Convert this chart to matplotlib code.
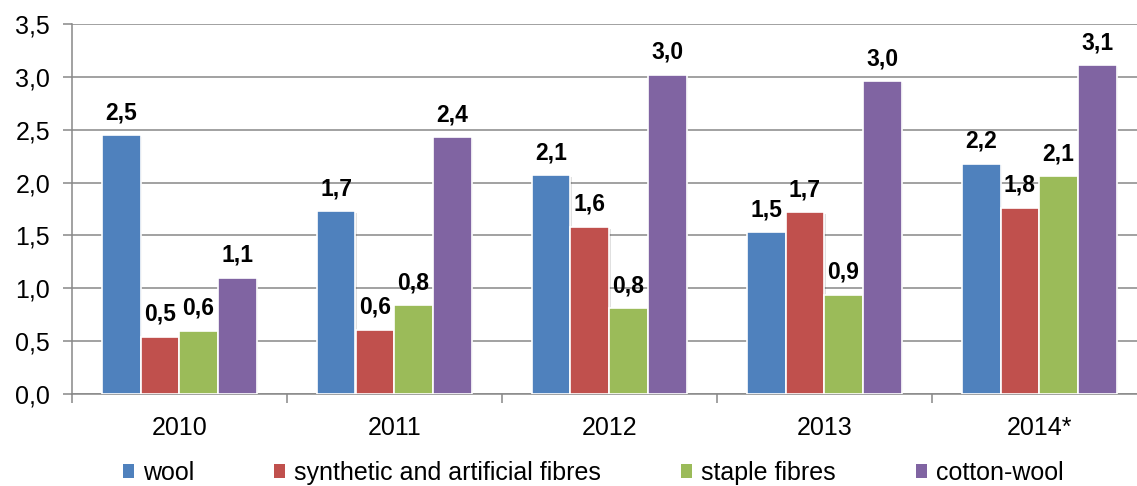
import matplotlib
matplotlib.use("Agg")
import matplotlib.pyplot as plt
import matplotlib.patheffects as pe
import numpy as np
from matplotlib.patches import Patch

plt.rcParams['font.family'] = ['Liberation Sans', 'DejaVu Sans']

# data
years = ['2010', '2011', '2012', '2013', '2014*']
wool = [2.45, 1.73, 2.07, 1.53, 2.18]
synthetic = [0.54, 0.61, 1.58, 1.72, 1.76]
staple = [0.60, 0.84, 0.81, 0.94, 2.06]
cotton_wool = [1.10, 2.43, 3.02, 2.96, 3.11]

series_names = ['wool', 'synthetic and artificial fibres', 'staple fibres', 'cotton-wool']
series_vals = [wool, synthetic, staple, cotton_wool]
colors = ['#4F81BD', '#C0504D', '#9BBB59', '#8064A2']

grid_col = '#888888'

fig = plt.figure(figsize=(11.37, 4.86), dpi=100)
# plot area runs a bit past the right edge, like the cropped original
ax = fig.add_axes([71.7 / 1137, 92 / 486, 1075 / 1137, 370 / 486])

x = np.arange(len(years))
w = 0.18
shadow = [pe.SimplePatchShadow(offset=(1.2, -1.2), shadow_rgbFace='#000000', alpha=0.12),
          pe.Normal()]
for i, (name, vals, c) in enumerate(zip(series_names, series_vals, colors)):
    pos = x + (i - 1.5) * w
    bars = ax.bar(pos, vals, width=w, color=c, edgecolor='white', linewidth=1.2,
                  zorder=3, label=name)
    for b in bars:
        b.set_path_effects(shadow)
    for xp, v in zip(pos, vals):
        ax.annotate(f"{v:.1f}".replace('.', ','), (xp, v), xytext=(0, 11.5),
                    textcoords='offset points', ha='center', va='baseline',
                    fontsize=16.5, fontweight='bold', zorder=4)

ax.set_xlim(-0.5, len(years) - 0.5)
ax.set_ylim(0, 3.5)
ax.set_yticks(np.arange(0, 3.51, 0.5))
ax.set_yticklabels([f"{t:.1f}".replace('.', ',') for t in np.arange(0, 3.51, 0.5)])
ax.set_xticks(x)
ax.set_xticklabels(years)
ax.set_xticks(np.arange(-0.5, len(years), 1.0), minor=True)

ax.tick_params(axis='y', labelsize=18, length=6.5, width=1.1, color=grid_col, pad=9)
ax.tick_params(axis='x', which='major', labelsize=18, length=0, pad=16)
ax.tick_params(axis='x', which='minor', length=6.5, width=1.1, color=grid_col)

ax.yaxis.grid(True, color=grid_col, linewidth=1.1, zorder=0)
ax.set_axisbelow(True)
for s in ['top', 'right']:
    ax.spines[s].set_visible(False)
for s in ['left', 'bottom']:
    ax.spines[s].set_color(grid_col)
    ax.spines[s].set_linewidth(1.1)

handles = [Patch(facecolor=c, edgecolor='none') for c in colors]
fig.legend(handles, series_names, loc='center', bbox_to_anchor=(593 / 1137, 13 / 486),
           ncol=4, frameon=False, fontsize=18, handlelength=0.45, handleheight=0.45,
           handletextpad=0.35, columnspacing=3.2, borderpad=0, borderaxespad=0)

fig.savefig('out.png', dpi=100)
